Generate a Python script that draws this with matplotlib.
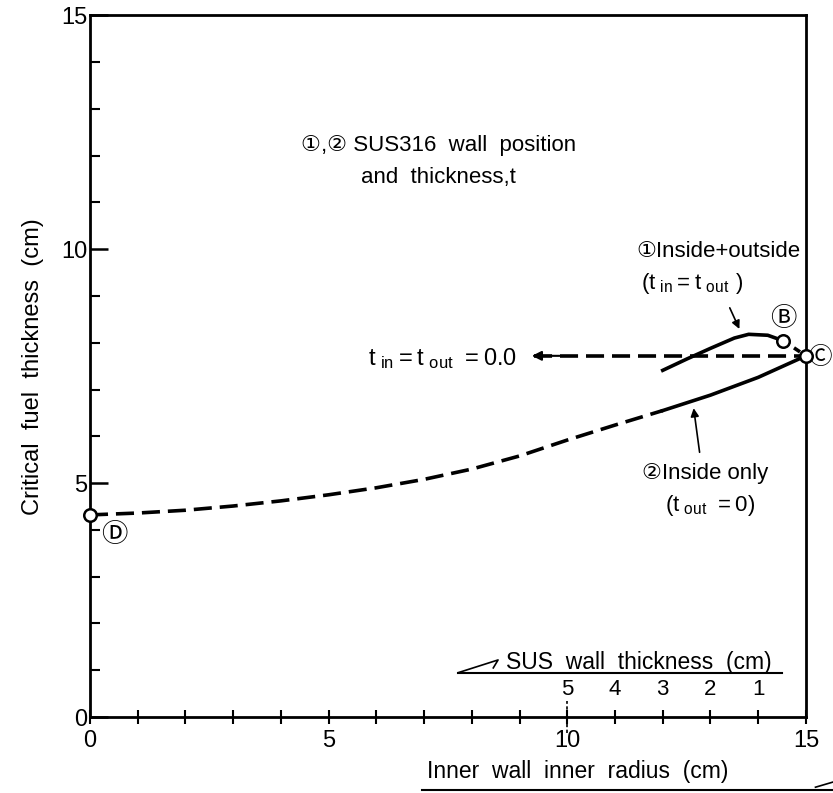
import matplotlib
matplotlib.use("Agg")
import matplotlib.pyplot as plt
from matplotlib.ticker import MultipleLocator

plt.rcParams["font.family"] = ["Liberation Sans", "DejaVu Sans", "Noto Sans CJK JP"]

# curve 2: inside wall only (t_out = 0)
inside_x = [0, 1, 2, 3, 4, 5, 6, 7, 8, 9, 10, 11, 12, 13, 14, 15]
inside_y = [4.32, 4.36, 4.42, 4.51, 4.62, 4.75, 4.90, 5.08, 5.30, 5.58, 5.92, 6.24, 6.55, 6.88, 7.26, 7.72]
inside_solid_from = 12

# curve 1: inside + outside (t_in = t_out)
both_x = [12.0, 12.5, 13.0, 13.5, 13.8, 14.2, 14.53]
both_y = [7.41, 7.65, 7.88, 8.10, 8.18, 8.16, 8.04]

# points B, C, D
pt_b = (14.53, 8.04)
pt_c = (15.0, 7.72)
pt_d = (0.0, 4.32)

# t_in = t_out = 0.0 line
zero_x = [9.3, 15.0]
zero_y = [7.72, 7.72]

# secondary scale: SUS wall thickness
wall_pos = [10, 11, 12, 13, 14]
wall_labels = ["5", "4", "3", "2", "1"]

fig = plt.figure(figsize=(8.33, 7.93), dpi=100)
ax = fig.add_axes([0.108, 0.0958, 0.8595, 0.885])
lw = 2.6

xs = [x for x in inside_x if x <= inside_solid_from]
ys = inside_y[:len(xs)]
ax.plot(xs, ys, color="black", lw=lw, dashes=(5, 2.2), solid_capstyle="butt")
xs2 = [x for x in inside_x if x >= inside_solid_from]
ys2 = inside_y[len(inside_x) - len(xs2):]
ax.plot(xs2, ys2, color="black", lw=lw)

ax.plot(both_x, both_y, color="black", lw=lw)
ax.plot([pt_b[0], pt_c[0]], [pt_b[1], pt_c[1]], color="black", lw=lw, dashes=(2, 1.5))

ax.plot(zero_x, zero_y, color="black", lw=lw, dashes=(5, 2.2))
ax.annotate("", xy=(9.2, 7.72), xytext=(9.9, 7.72),
            arrowprops=dict(arrowstyle="-|>", color="black", lw=1.5, mutation_scale=14))

for p in (pt_b, pt_c, pt_d):
    ax.plot(p[0], p[1], marker="o", ms=9, mfc="white", mec="black", mew=1.8,
            clip_on=False, zorder=5)

fs = 16
ax.text(7.3, 12.22, "①,② SUS316  wall  position", ha="center", va="center", fontsize=fs)
ax.text(7.3, 11.54, "and  thickness,t", ha="center", va="center", fontsize=fs)

ax.text(8.95, 7.66, r"$\mathregular{t_{\ in}=t_{\ out}\ =0.0}$", ha="right", va="center", fontsize=17)

ax.text(11.45, 9.96, "①Inside+outside", ha="left", va="center", fontsize=fs)
ax.text(11.55, 9.27, r"$\mathregular{(t_{\ in}=t_{\ out}\ )}$", ha="left", va="center", fontsize=fs)
ax.annotate("", xy=(13.63, 8.24), xytext=(13.38, 8.8),
            arrowprops=dict(arrowstyle="-|>", color="black", lw=1.2, mutation_scale=12))

ax.text(11.57, 5.2, "②Inside only", ha="left", va="center", fontsize=fs)
ax.text(12.05, 4.52, r"$\mathregular{(t_{\ out}\ =0)}$", ha="left", va="center", fontsize=fs)
ax.annotate("", xy=(12.64, 6.66), xytext=(12.78, 5.6),
            arrowprops=dict(arrowstyle="-|>", color="black", lw=1.2, mutation_scale=12))

ax.text(14.53, 8.51, "Ⓑ", ha="center", va="center", fontsize=19)
ax.text(15.29, 7.68, "Ⓒ", ha="center", va="center", fontsize=17)
ax.text(0.5, 3.88, "Ⓓ", ha="center", va="center", fontsize=19)

# secondary scale
for x, lab in zip(wall_pos, wall_labels):
    ax.text(x, 0.58, lab, ha="center", va="center", fontsize=16)
ax.text(11.49, 1.17, "SUS  wall  thickness  (cm)", ha="center", va="center", fontsize=16.5)
ax.plot([7.72, 14.5], [0.95, 0.95], color="black", lw=1.5)
ax.plot([7.72, 8.55, 8.45], [0.95, 1.22, 1.05], color="black", lw=1.2)
ax.plot([10, 10], [-0.35, 0.35], color="black", lw=1.2, dashes=(2, 1.5), clip_on=False)

# bottom axis title
ax.text(10.21, -1.17, "Inner  wall  inner  radius  (cm)", ha="center", va="center", fontsize=16.5)
ax.plot([6.96, 15.6], [-1.56, -1.56], color="black", lw=1.5, clip_on=False)
ax.plot([15.2, 15.6], [-1.5, -1.38], color="black", lw=1.2, clip_on=False)

ax.set_ylabel("Critical  fuel  thickness  (cm)", fontsize=17, labelpad=12)

ax.set_xlim(0, 15)
ax.set_ylim(0, 15)
ax.set_xticks([0, 5, 10, 15])
ax.set_yticks([0, 5, 10, 15])
ax.xaxis.set_minor_locator(MultipleLocator(1))
ax.yaxis.set_minor_locator(MultipleLocator(1))
ax.tick_params(axis="x", which="both", direction="inout", length=10, width=1.5,
               labelsize=17, pad=4)
ax.tick_params(axis="y", which="major", direction="in", length=13, width=1.8,
               labelsize=17, pad=2)
ax.tick_params(axis="y", which="minor", direction="in", length=7, width=1.5)
for s in ax.spines.values():
    s.set_linewidth(2)

fig.savefig("out.png", dpi=100)
